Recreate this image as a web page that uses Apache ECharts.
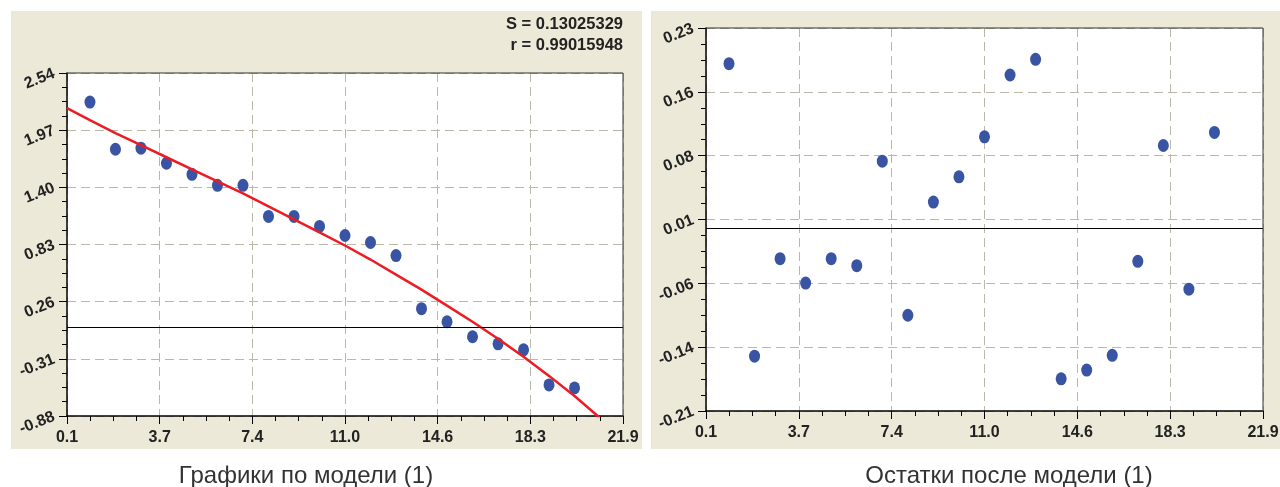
<!DOCTYPE html>
<html>
<head>
<meta charset="utf-8">
<title>Графики по модели (1)</title>
<script src="https://cdn.jsdelivr.net/npm/echarts@6/dist/echarts.min.js"></script>
<style>
    html, body { margin: 0; padding: 0; background: #fff; }
    #main { width: 1280px; height: 487px; }
</style>
</head>
<body>
<div id="main"></div>
<script>
// номера наблюдений
var obsX = [1, 2, 3, 4, 5, 6, 7, 8, 9, 10, 11, 12, 13, 14, 15, 16, 17, 18, 19, 20];
// наблюдаемые значения (левый график)
var obsY = [2.25, 1.78, 1.79, 1.64, 1.53, 1.42, 1.42, 1.11, 1.11, 1.01, 0.92, 0.85, 0.72,
    0.19, 0.06, -0.09, -0.16, -0.22, -0.57, -0.60];
// остатки (правый график)
var resid = [0.189, -0.147, -0.035, -0.063, -0.035, -0.043, 0.077, -0.100, 0.030, 0.059,
    0.105, 0.176, 0.194, -0.173, -0.163, -0.146, -0.038, 0.095, -0.070, 0.110];
// кривая модели (1)
var fitX = [0.1, 1, 2, 3, 4, 5, 6, 7, 8, 9, 10, 11, 12, 13, 14, 15, 16, 17, 18, 19, 20, 21];
var fitY = [2.19, 2.07, 1.94, 1.82, 1.70, 1.58, 1.46, 1.34, 1.21, 1.08, 0.95, 0.82, 0.68,
    0.53, 0.38, 0.22, 0.06, -0.11, -0.29, -0.48, -0.68, -0.90];

// пределы осей (6 делений на каждой оси)
var xRange = [0.1, 21.9];
var yRangeL = [-0.88, 2.54];
var yRangeR = [-0.21, 0.23];
var steps = 6;

var statText = ['S = 0.13025329', 'r = 0.99015948'];
var captions = ['Графики по модели (1)', 'Остатки после модели (1)'];

var FONT = "'Liberation Sans', Arial, sans-serif";
var gridL = { left: 67, top: 73, width: 556, height: 343 };
var gridR = { left: 706, top: 28, width: 557, height: 383 };

// сдвиг к началу оси, чтобы деления шли от min
function toPts(xs, ys, y0) {
    var res = [];
    for (var i = 0; i < xs.length; i++) {
        res.push([xs[i] - xRange[0], ys[i] - y0]);
    }
    return res;
}

function axisCommon(range, digits) {
    var span = range[1] - range[0];
    return {
        type: 'value',
        min: 0,
        max: span,
        interval: span / steps,
        axisLine: { onZero: false, lineStyle: { color: '#000', width: 1.5 } },
        axisTick: { length: 8, lineStyle: { color: '#000', width: 1 } },
        minorTick: { show: true, splitNumber: 4, length: 5, lineStyle: { color: '#000', width: 1 } },
        splitLine: { show: true, lineStyle: { color: '#bcb8a8', width: 1, type: [9, 5] } },
        minorSplitLine: { show: false },
        axisLabel: {
            color: '#222',
            fontSize: 16,
            fontWeight: 'bold',
            fontFamily: FONT,
            formatter: function (v) {
                return (v + range[0]).toFixed(digits);
            }
        }
    };
}

function xAxisFor(idx) {
    var a = axisCommon(xRange, 1);
    a.gridIndex = idx;
    a.axisLabel.margin = 14;
    return a;
}

function yAxisFor(idx, range) {
    var a = axisCommon(range, 2);
    a.gridIndex = idx;
    a.axisLabel.margin = 13;
    a.axisLabel.rotate = 22;
    return a;
}

// нулевая линия
function zeroLine(y0) {
    return {
        silent: true,
        symbol: 'none',
        label: { show: false },
        lineStyle: { color: '#000', width: 1.2, type: 'solid' },
        data: [{ yAxis: 0 - y0 }]
    };
}

function frame(g) {
    return {
        type: 'polyline',
        z: 50,
        silent: true,
        shape: { points: [[g.left, g.top], [g.left + g.width, g.top], [g.left + g.width, g.top + g.height]] },
        style: { stroke: '#333', lineWidth: 1, fill: null }
    };
}

var chart = echarts.init(document.getElementById('main'));

var option = {
    backgroundColor: '#fff',
    animation: false,
    grid: [
        Object.assign({ show: true, backgroundColor: '#fff', borderWidth: 0, outerBoundsMode: 'none' }, gridL),
        Object.assign({ show: true, backgroundColor: '#fff', borderWidth: 0, outerBoundsMode: 'none' }, gridR)
    ],
    xAxis: [xAxisFor(0), xAxisFor(1)],
    yAxis: [yAxisFor(0, yRangeL), yAxisFor(1, yRangeR)],
    graphic: [
        // серые панели
        { type: 'rect', z: -1, silent: true, shape: { x: 11, y: 11, width: 631, height: 438 }, style: { fill: '#ece9d8' } },
        { type: 'rect', z: -1, silent: true, shape: { x: 651, y: 11, width: 629, height: 438 }, style: { fill: '#ece9d8' } },
        frame(gridL),
        frame(gridR),
        {
            type: 'text', silent: true, x: 623, y: 24,
            style: { text: statText[0], align: 'right', verticalAlign: 'middle', fill: '#222', font: 'bold 16.5px ' + FONT }
        },
        {
            type: 'text', silent: true, x: 623, y: 45,
            style: { text: statText[1], align: 'right', verticalAlign: 'middle', fill: '#222', font: 'bold 16.5px ' + FONT }
        },
        {
            type: 'text', silent: true, x: 306, y: 476,
            style: { text: captions[0], align: 'center', verticalAlign: 'middle', fill: '#333', font: '24px ' + FONT }
        },
        {
            type: 'text', silent: true, x: 1009, y: 476,
            style: { text: captions[1], align: 'center', verticalAlign: 'middle', fill: '#333', font: '24px ' + FONT }
        }
    ],
    series: [
        {
            type: 'scatter',
            xAxisIndex: 0,
            yAxisIndex: 0,
            data: toPts(obsX, obsY, yRangeL[0]),
            symbol: 'circle',
            symbolSize: [11, 13],
            itemStyle: { color: '#3a54a4', opacity: 1 },
            markLine: zeroLine(yRangeL[0]),
            z: 3
        },
        {
            type: 'line',
            xAxisIndex: 0,
            yAxisIndex: 0,
            data: toPts(fitX, fitY, yRangeL[0]),
            showSymbol: false,
            symbol: 'none',
            lineStyle: { color: '#ed1c24', width: 2.5 },
            z: 4
        },
        {
            type: 'scatter',
            xAxisIndex: 1,
            yAxisIndex: 1,
            data: toPts(obsX, resid, yRangeR[0]),
            symbol: 'circle',
            symbolSize: [11, 13],
            itemStyle: { color: '#3a54a4', opacity: 1 },
            markLine: zeroLine(yRangeR[0]),
            z: 3
        }
    ]
};

chart.setOption(option);
</script>
</body>
</html>
